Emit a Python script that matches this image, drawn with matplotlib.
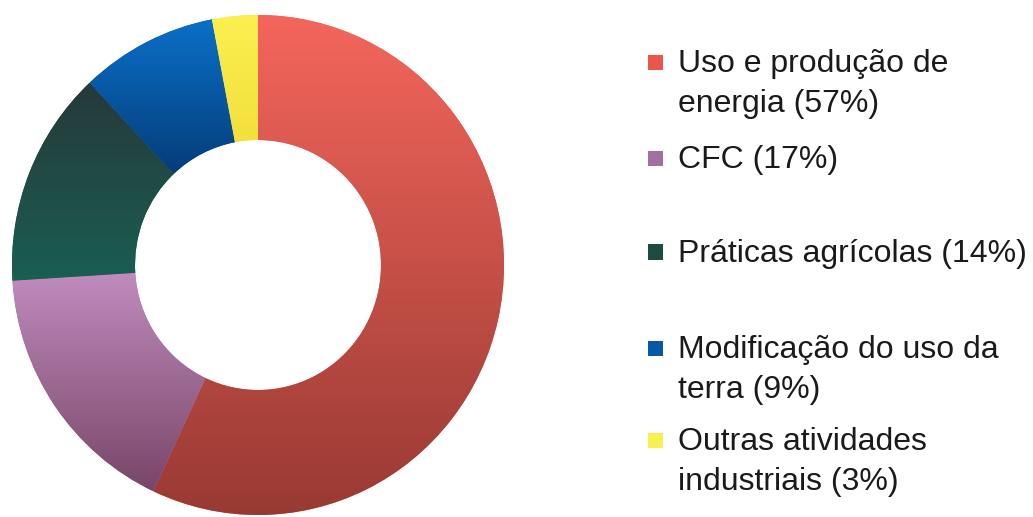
import matplotlib
matplotlib.use("Agg")
import matplotlib.pyplot as plt
import matplotlib.colors as mcolors
from matplotlib.patches import Rectangle
import numpy as np

# ---- data ----
categories = ["Uso e produção de\nenergia", "CFC", "Práticas agrícolas",
              "Modificação do uso da\nterra", "Outras atividades\nindustriais"]
values = [57, 17, 14, 9, 3]
# gradient colours (top, bottom) per slice
top_colors = ["#f4665c", "#c08cbe", "#26393a", "#0a70c8", "#fcef50"]
bottom_colors = ["#983a33", "#784668", "#1a5e52", "#053c7a", "#f2e03c"]
legend_colors = ["#e8564c", "#a070a0", "#1e4a44", "#0858a8", "#f8f050"]

W, H = 1033, 517
fig = plt.figure(figsize=(W / 100, H / 100), dpi=100)
fig.patch.set_facecolor("white")

# donut axes (pixel box of the ring)
x0, x1, ytop, ybot = 12, 504, 15, 515
ax = fig.add_axes([x0 / W, (H - ybot) / H, (x1 - x0) / W, (ybot - ytop) / H])
wedges, _ = ax.pie(values, startangle=90, counterclock=False, radius=1.0,
                   colors=legend_colors,
                   wedgeprops=dict(width=0.5, edgecolor="none", linewidth=0))
ax.set_aspect("auto")
ax.axis("off")

grad = np.linspace(0, 1, 256).reshape(-1, 1)
for w, ct, cb in zip(wedges, top_colors, bottom_colors):
    path = w.get_path()
    ext = path.get_extents(w.get_patch_transform())
    cmap = mcolors.LinearSegmentedColormap.from_list("g", [ct, cb])
    im = ax.imshow(grad, cmap=cmap, aspect="auto", origin="upper",
                   extent=[ext.x0, ext.x1, ext.y0, ext.y1], zorder=2,
                   interpolation="bilinear")
    im.set_clip_path(w)
ax.set_xlim(-1, 1)
ax.set_ylim(-1, 1)

# ---- legend (manual, to match layout) ----
font = dict(family=["Liberation Sans", "DejaVu Sans"], size=23, color="#1a1a1a")
first_baselines = [72, 168, 262, 358, 450]
line_gap = 40
marker = 15
text_x = 678
marker_x = 648
for cat, val, col, yb in zip(categories, values, legend_colors, first_baselines):
    lines = cat.split("\n")
    lines[-1] = f"{lines[-1]} ({val}%)"
    for i, ln in enumerate(lines):
        fig.text(text_x / W, (H - (yb + i * line_gap)) / H, ln,
                 ha="left", va="baseline", **font)
    cy = yb - 10
    fig.patches.append(Rectangle(((marker_x) / W, (H - cy - marker / 2) / H),
                                 marker / W, marker / H, transform=fig.transFigure,
                                 facecolor=col, edgecolor="none"))

fig.savefig("out.png", dpi=100, facecolor="white")
